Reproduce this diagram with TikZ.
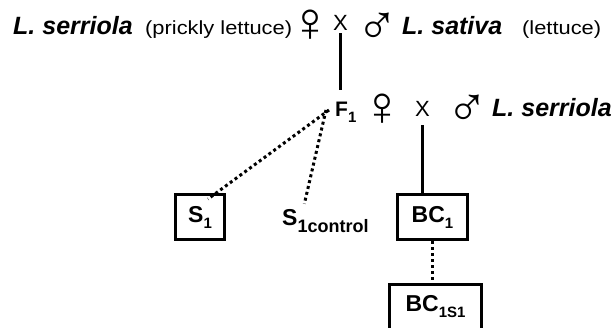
\documentclass[tikz,border=0pt]{standalone}
\usepackage{fontspec}
\setmainfont{Liberation Sans}
\newfontfamily\notefont{Liberation Sans}[FakeStretch=1.15]
\newcommand{\subs}[3]{\raisebox{-#1}{\fontsize{#2}{#2}\selectfont\bfseries #3}}
\begin{document}
\begin{tikzpicture}[x=1pt,y=-1pt,
	every node/.style={inner sep=0pt},
	species/.style={anchor=base west,font=\fontsize{25}{25}\selectfont\bfseries\itshape},
	note/.style={anchor=base west,font=\notefont\fontsize{19}{19}\selectfont},
	sex/.style={anchor=base west,text height=30pt,text depth=0pt,font=\fontsize{56}{56}\selectfont},
	cross/.style={anchor=base west,font=\fontsize{22}{22}\selectfont},
	gen/.style={anchor=base west,font=\fontsize{21}{21}\selectfont\bfseries},
	plant/.style={draw,line width=3pt,minimum height=45pt,font=\fontsize{23}{23}\selectfont\bfseries},
	link/.style={line width=3pt},
	dots/.style={line width=3pt,dash pattern=on 3pt off 3pt}]
\useasboundingbox (0,0) rectangle (615,327);
% first cross
\node[species] (mom) at (13,34) {L. serriola};
\node[note] (momnote) at (145,34) {(prickly lettuce)};
\node[sex] (fem1) at (289,41) {♀};
\node[cross] (x1) at (333,30) {X};
\node[sex] (male1) at (356,44) {♂};
\node[species] (dad) at (402,34) {L. sativa};
\node[note] (dadnote) at (522,34) {(lettuce)};
% backcross
\node[gen] (f1) at (335,116) {F\subs{6pt}{15}{1}};
\node[sex] (fem2) at (361,125) {♀};
\node[cross] (x2) at (415,116) {X};
\node[sex] (male2) at (446,126) {♂};
\node[species] (dad2) at (492,116) {L. serriola};
% offspring
\node[plant,minimum width=49pt] (s1) at (200,217) {S\subs{6pt}{15}{1}};
\node[gen,font=\fontsize{23}{23}\selectfont\bfseries] (s1c) at (282,225) {S\subs{7pt}{18}{1control}};
\node[plant,minimum width=70pt] (bc1) at (432.5,217) {BC\subs{6pt}{15}{1}};
\node[plant,minimum width=92pt] (bc1s) at (435.5,307) {BC\subs{6pt}{15}{1S1}};
\coordinate (f1s) at ([xshift=-6pt,yshift=6pt]f1.base west);
\draw[link,shorten <=3pt,shorten >=11pt] (x1.base) -- (x1.base |- f1.north);
\draw[link,shorten <=9pt] (x2.base) -- (x2.base |- bc1.north);
\draw[dots] (f1s) -- ([xshift=8pt,yshift=-6pt]s1.north);
\draw[dots] ([xshift=-3pt]f1s) -- ([xshift=-21pt,yshift=5pt]s1c.north);
\draw[dots] (bc1.south) -- (bc1.south |- bc1s.north);
\end{tikzpicture}
\end{document}
